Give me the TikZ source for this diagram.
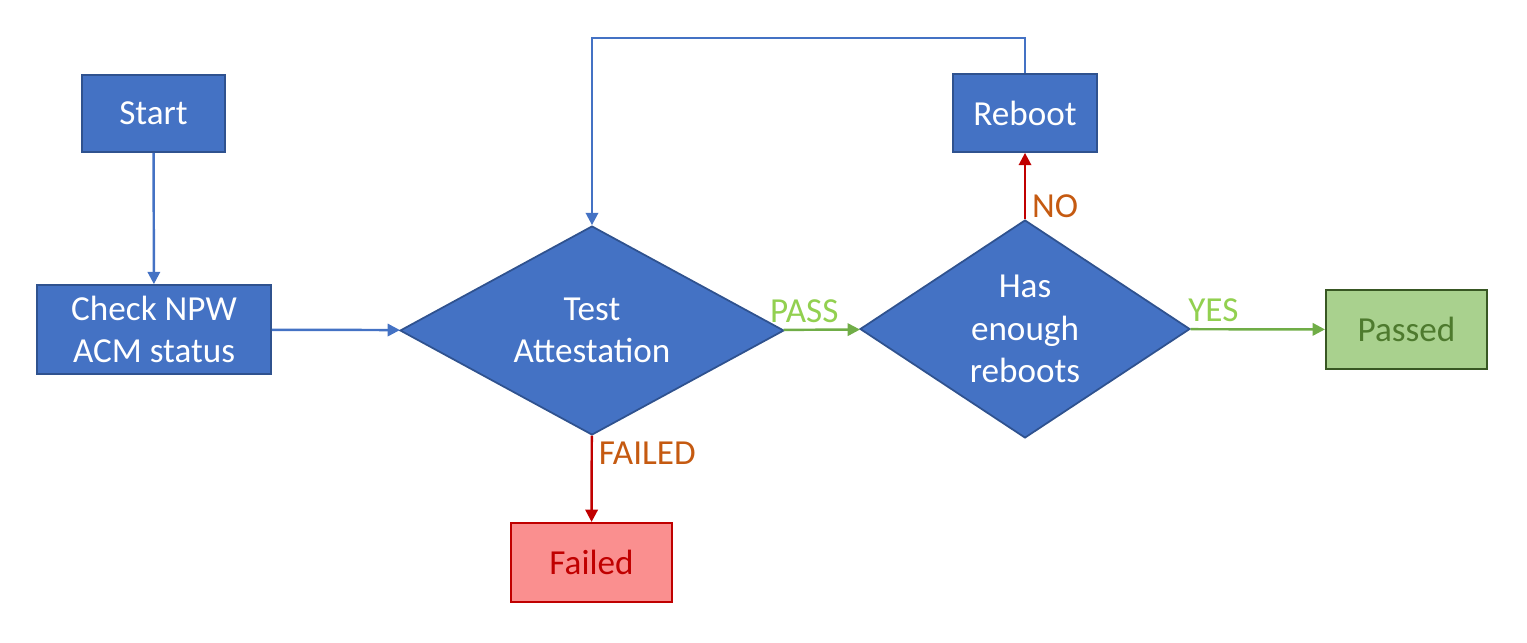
\documentclass[tikz,border=0pt]{standalone}
\usepackage{fontspec}
\setmainfont{Carlito}
\usetikzlibrary{shapes.geometric, arrows.meta}

\definecolor{boxblue}{HTML}{4472C4}
\definecolor{edgeblue}{HTML}{2F528F}
\definecolor{okfill}{HTML}{A9D18E}
\definecolor{okline}{HTML}{385723}
\definecolor{oktext}{HTML}{4E7A2E}
\definecolor{badfill}{HTML}{FA8F8F}
\definecolor{badline}{HTML}{C00000}
\definecolor{passgreen}{HTML}{92D050}
\definecolor{arrowgreen}{HTML}{70AD47}
\definecolor{labelorange}{HTML}{C55A11}

\begin{document}
\begin{tikzpicture}[x=0.02cm, y=-0.02cm,
    every node/.style={font=\fontsize{20}{24}\selectfont},
    block/.style={rectangle, draw=edgeblue, fill=boxblue, text=white, line width=1pt, align=center, inner sep=0pt},
    choice/.style={diamond, draw=edgeblue, fill=boxblue, text=white, line width=1pt, align=center, inner sep=0pt},
    flow/.style={-{Triangle[length=7pt, width=7pt]}, line width=1.4pt},
    tag/.style={font=\fontsize{20}{24}\selectfont}]
    \useasboundingbox (0,0) rectangle (1527,642);

    \node[block, minimum width=2.86cm, minimum height=1.54cm] (start) at (153.5,113.5) {Start};
    \node[block, minimum width=4.68cm, minimum height=1.78cm] (check) at (154,329.5) {Check NPW\\ACM status};
    \node[choice, aspect=1.84, minimum width=7.68cm, minimum height=4.18cm] (test) at (592,330.5) {Test\\Attestation};
    \node[choice, aspect=1.5, minimum width=6.6cm, minimum height=4.36cm] (enough) at (1025,329) {Has\\enough\\reboots};
    \node[block, minimum width=2.88cm, minimum height=1.56cm] (reboot) at (1025,113) {Reboot};
    \node[rectangle, draw=okline, fill=okfill, text=oktext, line width=1.2pt, minimum width=3.22cm, minimum height=1.58cm] (passed) at (1406.5,329.5) {Passed};
    \node[rectangle, draw=badline, fill=badfill, text=badline, line width=1.2pt, minimum width=3.22cm, minimum height=1.58cm] (failed) at (591.5,562.5) {Failed};

    \draw[flow, boxblue] (start) -- (check);
    \draw[flow, boxblue] (check) -- (test);
    \draw[flow, arrowgreen] (test) -- node[tag, above, text=passgreen, xshift=-10] {PASS} (enough);
    \draw[flow, arrowgreen] (enough) -- node[tag, above, text=passgreen, pos=0.17] {YES} (passed);
    \draw[flow, badline] (enough) -- node[tag, right, text=labelorange, pos=0.2] {NO} (reboot);
    \draw[flow, badline] (test) -- node[tag, right, text=labelorange, pos=0.2] {FAILED} (failed);
    \draw[flow, boxblue] (reboot.north) -- ++(0,-35) -| (test.north);
\end{tikzpicture}
\end{document}
